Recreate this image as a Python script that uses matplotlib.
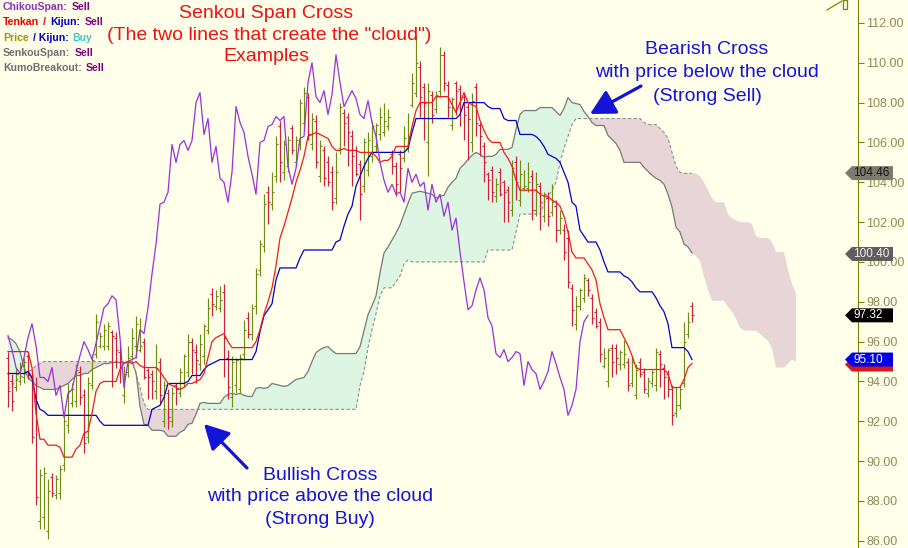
import matplotlib
matplotlib.use("Agg")
import matplotlib.pyplot as plt
from matplotlib.offsetbox import TextArea, HPacker, AnnotationBbox
from matplotlib.patches import Rectangle
import numpy as np

plt.rcParams["font.family"] = ["Liberation Sans", "DejaVu Sans"]

# ---- price bars of the visible window (one value per bar) ----
highs = [95.5, 94.4, 94.7, 95.0, 95.2, 95.5, 94.4, 94.2, 89.6, 89.7,
         89.1, 89.4, 89.3, 89.8, 92.4, 93.9, 93.9, 94.9, 94.8, 93.6,
         94.2, 95.4, 97.4, 96.5, 96.9, 97.0, 96.6, 96.5, 95.9, 94.8,
         95.8, 96.7, 97.3, 97.2, 96.2, 94.7, 94.6, 95.9, 95.2, 94.0,
         93.6, 93.7, 93.9, 94.7, 95.4, 96.4, 96.2, 95.9, 96.4, 96.9,
         98.2, 98.7, 98.6, 98.8, 98.9, 95.6, 95.3, 95.2, 95.4, 97.1,
         97.5, 97.9, 99.7, 101.1, 103.4, 103.8, 104.5, 106.3, 107.1, 106.1,
         106.3, 106.9, 106.3, 108.2, 108.8, 108.5, 107.5, 107.4, 106.1, 105.8,
         105.3, 104.8, 105.5, 108.0, 107.7, 107.5, 106.6, 105.8, 105.1, 106.2,
         106.5, 107.1, 107.0, 107.8, 108.0, 107.7, 105.6, 105.0, 105.6, 106.8,
         107.5, 109.5, 111.4, 110.1, 109.0, 109.0, 108.6, 108.6, 110.8, 110.6,
         109.1, 108.3, 109.1, 108.9, 108.5, 108.0, 108.5, 109.0, 107.0, 106.0,
         104.5, 104.8, 104.2, 104.7, 104.1, 103.8, 105.1, 105.3, 105.1, 104.6,
         105.0, 104.6, 104.5, 104.0, 103.5, 103.5, 103.9, 103.1, 102.6, 101.9,
         101.6, 98.9, 98.3, 98.7, 99.4, 99.2, 98.4, 97.7, 97.2, 95.7,
         95.7, 95.9, 95.9, 95.6, 96.1, 95.2, 95.3, 94.9, 95.2, 94.7,
         94.2, 94.6, 95.7, 95.6, 94.9, 94.6, 93.8, 93.7, 93.8, 97.0,
         97.5, 98.0]
lows = [92.7, 92.5, 93.5, 93.8, 93.9, 94.1, 90.9, 87.8, 86.6, 86.6,
        86.1, 88.2, 88.1, 88.1, 89.5, 91.4, 92.7, 92.7, 92.8, 90.4,
        90.9, 93.6, 95.2, 95.7, 95.6, 95.6, 93.7, 94.7, 93.9, 92.9,
        94.2, 95.1, 95.2, 95.5, 94.1, 93.1, 93.1, 93.1, 92.9, 91.7,
        91.6, 91.7, 92.8, 93.2, 93.7, 94.2, 94.4, 93.9, 94.6, 94.9,
        96.4, 97.3, 97.6, 97.5, 94.2, 93.1, 92.7, 93.4, 93.4, 95.1,
        96.2, 96.1, 97.4, 99.3, 100.5, 101.9, 102.6, 104.0, 104.0, 104.1,
        104.5, 105.4, 104.8, 105.6, 106.6, 106.1, 105.6, 104.7, 104.0, 103.8,
        103.8, 102.6, 102.9, 105.4, 105.8, 104.8, 103.8, 104.3, 102.1, 103.5,
        104.3, 105.0, 105.5, 106.1, 106.3, 106.6, 104.4, 103.3, 103.5, 105.0,
        105.5, 107.8, 108.3, 107.3, 106.1, 104.3, 107.0, 107.5, 108.3, 108.6,
        107.3, 106.6, 107.4, 106.8, 106.1, 105.1, 105.5, 106.3, 105.3, 104.0,
        103.1, 103.0, 103.0, 103.3, 102.0, 102.0, 102.3, 103.1, 102.8, 103.6,
        103.5, 102.1, 102.3, 101.6, 102.0, 101.8, 102.3, 101.0, 101.4, 100.1,
        98.7, 96.8, 96.6, 97.6, 98.0, 98.3, 96.9, 96.7, 95.0, 94.7,
        93.7, 94.2, 94.4, 94.6, 94.7, 93.5, 93.7, 93.1, 94.2, 93.4,
        93.2, 93.7, 93.5, 93.7, 93.1, 93.2, 91.8, 92.2, 92.6, 93.7,
        96.2, 97.0]
opens = [95.2, 94.0, 93.7, 94.0, 94.2, 95.3, 94.2, 93.0, 87.0, 87.2,
         86.5, 89.2, 88.3, 88.4, 89.8, 91.8, 92.9, 93.0, 94.5, 93.3,
         91.2, 93.8, 95.4, 95.8, 95.8, 95.8, 96.5, 96.2, 95.5, 93.3,
         94.5, 95.3, 95.8, 95.6, 96.0, 94.6, 94.4, 93.5, 95.0, 92.0,
         93.4, 92.0, 93.8, 93.4, 93.9, 94.5, 96.0, 95.5, 94.9, 95.3,
         96.6, 98.4, 97.8, 97.7, 98.5, 95.2, 93.2, 93.8, 93.6, 95.4,
         97.2, 96.4, 97.8, 99.6, 100.8, 103.5, 102.9, 104.3, 106.8, 104.5,
         104.8, 106.7, 105.0, 105.9, 107.0, 108.3, 105.9, 107.1, 104.3, 105.6,
         105.0, 104.5, 103.2, 105.7, 107.5, 107.3, 106.3, 105.6, 104.9, 103.8,
         104.6, 105.3, 105.8, 106.4, 106.5, 106.8, 105.4, 104.8, 105.4, 105.2,
         105.7, 107.9, 108.5, 109.8, 108.8, 106.0, 108.4, 107.7, 108.6, 110.4,
         108.9, 106.9, 109.0, 108.7, 108.3, 107.8, 106.0, 108.8, 106.9, 105.8,
         104.4, 104.6, 103.3, 104.5, 104.0, 103.6, 102.6, 105.0, 103.1, 103.7,
         103.7, 104.3, 102.6, 103.8, 102.3, 103.2, 102.5, 102.8, 101.6, 101.6,
         101.2, 98.7, 96.9, 97.8, 98.2, 99.1, 98.2, 97.5, 97.0, 94.8,
         94.0, 95.7, 95.7, 94.9, 94.9, 95.0, 93.9, 93.3, 95.0, 94.5,
         93.4, 93.9, 93.8, 95.4, 94.7, 94.4, 93.6, 92.4, 92.8, 93.9,
         96.4, 97.8]
closes = [93.5, 93.0, 94.4, 94.8, 95.0, 94.3, 91.2, 88.2, 89.3, 89.4,
          88.5, 88.4, 89.1, 89.6, 92.0, 93.5, 93.6, 94.6, 93.2, 90.9,
          93.9, 95.1, 97.0, 96.3, 96.6, 96.8, 96.3, 95.6, 94.7, 94.4,
          95.2, 96.2, 96.9, 95.8, 94.2, 94.2, 94.0, 94.7, 93.3, 93.8,
          92.2, 93.4, 93.6, 94.5, 95.3, 96.0, 95.6, 95.1, 95.9, 96.8,
          97.7, 97.9, 98.3, 98.1, 96.2, 93.7, 95.0, 95.1, 95.2, 96.6,
          96.4, 97.7, 99.4, 100.9, 102.9, 103.0, 103.5, 105.9, 105.0, 105.9,
          106.1, 105.6, 106.1, 108.0, 108.5, 106.4, 107.2, 105.0, 105.8, 104.2,
          104.0, 103.0, 104.5, 107.8, 107.0, 106.5, 105.3, 104.4, 103.4, 106.0,
          106.1, 106.8, 106.9, 107.3, 107.1, 107.3, 104.8, 103.9, 104.7, 106.2,
          106.3, 109.0, 110.0, 108.3, 108.0, 108.6, 107.4, 108.4, 110.4, 109.0,
          107.8, 108.2, 108.6, 108.2, 107.4, 107.2, 108.1, 107.0, 106.3, 105.0,
          104.1, 103.5, 103.9, 103.4, 103.5, 103.0, 104.7, 104.0, 104.4, 103.8,
          104.0, 102.6, 103.9, 103.0, 103.4, 102.3, 103.0, 101.6, 102.2, 100.5,
          99.0, 97.6, 97.8, 98.6, 99.2, 98.6, 97.2, 96.8, 95.4, 95.2,
          95.6, 95.0, 95.2, 95.5, 95.4, 93.8, 95.0, 94.6, 94.4, 93.6,
          94.0, 94.5, 95.5, 94.9, 94.2, 93.6, 92.3, 92.8, 93.6, 96.0,
          97.0, 97.32]

# ---- Ichimoku lines ----
tenkan = ([95.5] * 6 + [94.7, 92.4, 91.1, 91.1] + [90.8] * 3 + [90.7] + [90.2] * 3
          + [90.6, 90.8, 91.4, 91.5, 92.4, 93.5, 93.9] + [94.0] * 4
          + [94.6, 94.9, 95.0, 94.9, 95.0, 94.8] + [94.7] * 4
          + [94.5, 94.2, 93.9, 93.8, 93.7, 93.6, 93.7, 93.9, 93.9, 94.0, 94.1, 94.4,
             95.2, 96.0, 96.2, 96.3, 96.4, 96.0] + [95.7] * 6
          + [96.0, 96.6, 97.4, 98.0, 98.7, 99.8, 101.2, 101.8, 102.5, 103.2, 104.0,
             104.6, 105.3, 106.3, 106.4, 106.5, 106.4, 106.3, 106.2, 105.8, 105.6,
             105.6, 105.7] + [105.6] * 3 + [105.5] * 4
          + [105.3, 105.0, 105.1, 105.1, 105.3] + [105.8] * 4 + [106.8, 107.6]
          + [108.0] * 4 + [108.3] * 4
          + [107.9, 107.5, 108.0, 108.5, 108.0, 107.9, 107.8, 107.1, 106.6, 106.2]
          + [106.0] * 3 + [105.5, 105.2, 104.8, 104.1] + [103.6] * 5
          + [103.4, 103.3, 103.3, 103.1, 103.0, 102.8, 102.3, 101.5, 100.5]
          + [100.2] * 3 + [99.9, 99.6, 99.1, 97.9, 97.2] + [96.6] * 4
          + [96.2, 95.8, 95.3, 94.7] + [94.6] * 7 + [94.4] + [93.7] * 3
          + [94.1, 94.7, 94.9])
kijun = ([94.4] * 5 + [94.5, 94.2, 93.1, 92.6, 92.5] + [92.3] * 13 + [92.0]
         + [91.8] * 12 + [92.6, 92.7, 92.8, 93.2] + [93.9] * 5 + [94.0] + [94.3] * 3
         + [94.6, 94.8, 94.9, 95.0] + [95.1] * 9
         + [95.5, 96.5, 97.3, 97.6, 97.9, 99.1] + [99.7] * 5 + [100.2] + [100.6] * 8
         + [101.0, 101.1, 101.8, 102.4, 102.8, 103.8, 104.3, 104.8, 105.2]
         + [105.5] * 9 + [105.7, 106.5] + [107.2] * 11 + [107.4] + [108.0] * 6
         + [107.8] + [107.7] * 3 + [107.2] + [107.1] * 3 + [106.4] * 4
         + [106.3, 106.1, 105.8, 105.4, 105.3, 105.2, 105.0, 104.5, 104.0, 103.0,
            102.8, 101.6, 101.3] + [101.0] * 3 + [100.6, 100.0] + [99.5] * 4
         + [99.3, 99.2, 99.0, 98.7] + [98.5] * 4 + [98.2, 97.8, 97.5, 96.9]
         + [95.7] * 4 + [95.5, 95.1])
senkou_a = ([96.2, 96.1, 95.9, 95.5, 94.7, 94.2, 94.0, 93.8, 93.7, 93.6, 93.6, 93.6, 93.6,
             93.7, 93.8, 93.9, 94.1, 94.3, 94.3, 94.4, 94.4, 94.6, 94.7, 94.8, 94.9, 94.9]
            + [94.95] * 5 + [95.0, 94.45, 92.75, 91.85, 91.8] + [91.55] * 3 + [91.5]
            + [91.25] * 3 + [91.45, 91.55, 91.85, 91.9, 92.35, 92.9, 92.95] + [92.9] * 4
            + [93.2, 93.35, 93.4, 93.35, 93.4, 93.3] + [93.25] * 2
            + [93.65, 93.7, 93.65, 93.7, 93.9, 93.85, 93.8, 93.75, 93.8, 93.95, 94.1,
               94.15, 94.2, 94.5, 95.0, 95.45, 95.6, 95.7, 95.75, 95.55] + [95.4] * 6
            + [95.75, 96.55, 97.35, 97.8, 98.3, 99.45, 100.45, 100.75, 101.1, 101.45,
               101.85, 102.4, 102.95, 103.45, 103.5, 103.55, 103.5, 103.45, 103.4,
               103.2, 103.3, 103.35, 103.75, 104.0, 104.2, 104.7, 104.9, 105.15,
               105.35, 105.5, 105.4, 105.25] + [105.3] * 2 + [105.4] + [105.65] * 3
            + [105.75, 106.65, 107.4] + [107.6] * 4 + [107.75] * 4
            + [107.55, 107.35, 107.7, 108.25, 108.0, 107.95, 107.9, 107.55, 107.3, 107.0]
            + [106.85] * 3 + [106.35, 106.15, 105.95, 105.6] + [105.0] * 5
            + [104.75, 104.55, 104.35, 104.2, 104.1, 103.9, 103.4, 102.75, 101.75, 101.5,
               100.9, 100.75, 100.45, 100.3, 100.05, 99.25, 98.6] + [98.05] * 4
            + [97.75, 97.5, 97.15, 96.7] + [96.55] * 4 + [96.4, 96.2, 96.05, 95.65]
            + [94.7] * 3 + [94.9, 95.1, 95.0])
senkou_b = ([93.6, 93.8, 94.0, 94.2, 94.3, 94.5, 94.6, 94.8, 94.9, 95.0] + [95.0] * 22
            + [94.4, 93.7, 92.9] + [92.6] * 53
            + [93.8, 94.5, 95.7, 96.6, 97.4, 98.3] + [98.7] * 3 + [99.0, 99.3, 99.9, 100.1]
            + [100.0] * 19 + [100.6] * 7 + [101.5] + [102.4] * 6
            + [102.9, 103.3, 103.6, 104.0, 105.0, 105.7, 106.3, 106.9] + [107.2] * 17
            + [107.0] + [106.9] * 3 + [106.7, 106.5, 106.2, 105.5, 104.8, 104.5]
            + [104.45] * 4 + [104.3, 104.0, 103.6, 103.2] + [103.0] * 3
            + [102.4, 102.2, 102.1] + [102.0] * 3 + [101.9, 101.3] + [101.2] * 3
            + [101.0] + [100.5] * 3 + [99.6, 98.9, 98.4])

y_ticks = [86, 88, 90, 92, 94, 96, 98, 100, 102, 104, 106, 108, 110, 112]
tag_labels = ["104.46", "100.40", "97.32", "95.10"]
tag_values = [104.46, 100.40, 97.32, 95.10]
tenkan_tag_value = 94.95

# ---- colours ----
BG = "#ffffea"
CLOUD_UP = "#dcf6e2"
CLOUD_DN = "#e8d5d8"
BAR_UP = "#6d8c14"
BAR_DN = "#cc1f3c"
AXIS = "#808000"
RED_TXT = "#ee1111"
BLUE_TXT = "#1414d8"

W, H = 908, 548
PLOT_W = 858
X0, X1 = -2, 212.5
Y0, Y1 = 85.64, 113.15


def px(x, y):
    # pixel position in the picture -> data coordinates (for texts and arrows)
    return X0 + x / PLOT_W * (X1 - X0), Y1 - y / H * (Y1 - Y0)


def ypx(v):
    return (Y1 - v) / (Y1 - Y0) * H


def tag_shape(yc, color, z):
    pts = [(845, yc), (852, yc - 7), (893, yc - 7), (893, yc + 7), (852, yc + 7)]
    ax.fill([px(x, y)[0] for x, y in pts], [px(x, y)[1] for x, y in pts],
            color=color, lw=0, zorder=z, clip_on=False)


fig = plt.figure(figsize=(W / 100, H / 100), dpi=100)
fig.patch.set_facecolor(BG)
ax = fig.add_axes([0, 0, PLOT_W / W, 1])
ax.set_facecolor(BG)
ax.set_xlim(X0, X1)
ax.set_ylim(Y0, Y1)

n = len(closes)
idx = np.arange(n)
k = np.arange(len(senkou_a))
a = np.array(senkou_a)
b = np.array(senkou_b)

# cloud
ax.fill_between(k, a, b, where=a >= b, interpolate=True, color=CLOUD_UP, lw=0, zorder=1)
ax.fill_between(k, a, b, where=a < b, interpolate=True, color=CLOUD_DN, lw=0, zorder=1)
ax.plot(k[:n], a[:n], color="#787878", lw=0.9, zorder=2)
ax.plot(k[:n], b[:n], color="#8e8e8e", lw=0.8, ls=(0, (3, 2)), zorder=2)

# OHLC bars
cols = [BAR_UP if c >= o else BAR_DN for o, c in zip(opens, closes)]
ax.vlines(idx, lows, highs, colors=cols, lw=0.85, zorder=3)
ax.hlines(opens, idx - 0.45, idx, colors=cols, lw=0.8, zorder=3)
ax.hlines(closes, idx, idx + 0.45, colors=cols, lw=0.8, zorder=3)

# lines
ax.plot(idx, kijun, color="#0000c8", lw=0.9, zorder=4)
ax.plot(idx, tenkan, color="#f01c1c", lw=0.9, zorder=4)
ax.plot(idx[26:] - 26, closes[26:], color="#9b30d9", lw=0.9, zorder=5)

# right axis
for s in ("top", "left", "bottom"):
    ax.spines[s].set_visible(False)
ax.spines["right"].set_color(AXIS)
ax.set_xticks([])
ax.yaxis.tick_right()
ax.set_yticks(y_ticks)
ax.set_yticklabels([f"{v:.2f}" for v in y_ticks])
ax.tick_params(axis="y", direction="out", length=4, width=0.8, color=AXIS,
               labelcolor="#8c8c5a", labelsize=9, pad=2)

# red tenkan tag peeking out under the blue kijun tag (shape only)
tag_shape(ypx(tenkan_tag_value) + 2, "#d81818", 9)

# value tags on the axis
tag_colors = [("#7c7c6e", "#141414"), ("#5e5e5e", "#f2f2f2"),
              ("#000000", "#ffffff"), ("#0000e6", "#ffffff")]
for label, val, (fc, tc) in zip(tag_labels, tag_values, tag_colors):
    tag_shape(ypx(val), fc, 10)
    ax.text(*px(853, ypx(val)), label, ha="left", va="center", fontsize=8.5,
            color=tc, zorder=11, clip_on=False)

# titles
ax.text(*px(266, 14), "Senkou Span Cross", ha="center", va="center", fontsize=14, color=RED_TXT)
ax.text(*px(269, 36), '(The two lines that create the "cloud")', ha="center", va="center",
        fontsize=14, color=RED_TXT)
ax.text(*px(266, 57), "Examples", ha="center", va="center", fontsize=14, color=RED_TXT)

ax.text(*px(707, 50), "Bearish Cross", ha="center", va="center", fontsize=14, color=BLUE_TXT)
ax.text(*px(707, 73), "with price below the cloud", ha="center", va="center", fontsize=14, color=BLUE_TXT)
ax.text(*px(707, 96), "(Strong Sell)", ha="center", va="center", fontsize=14, color=BLUE_TXT)

ax.text(*px(320, 475), "Bullish Cross", ha="center", va="center", fontsize=14, color=BLUE_TXT)
ax.text(*px(320, 497), "with price above the cloud", ha="center", va="center", fontsize=14, color=BLUE_TXT)
ax.text(*px(320, 520), "(Strong Buy)", ha="center", va="center", fontsize=14, color=BLUE_TXT)

arrow = dict(arrowstyle="-|>,head_length=0.75,head_width=0.4", color=BLUE_TXT, lw=2.3,
             mutation_scale=20, shrinkA=0, shrinkB=0)
ax.annotate("", xy=px(590, 114), xytext=px(641, 86), arrowprops=arrow, zorder=8)
ax.annotate("", xy=px(204, 424), xytext=px(247, 468), arrowprops=arrow, zorder=8)

# signal legend, top left
PURPLE = "#9030c0"
SELL = "#800080"
GRAY = "#707070"
legend_rows = [
    [("ChikouSpan:", PURPLE), ("Sell", SELL)],
    [("Tenkan", "#ee0000"), ("/", "#ee0000"), ("Kijun:", "#0000cc"), ("Sell", SELL)],
    [("Price", "#9a9a00"), ("/ Kijun:", "#0000cc"), ("Buy", "#40c8c8")],
    [("SenkouSpan:", GRAY), ("Sell", SELL)],
    [("KumoBreakout:", GRAY), ("Sell", SELL)],
]
legend_y = [7, 22, 38, 53, 68]
for row, yrow in zip(legend_rows, legend_y):
    boxes = [TextArea(t, textprops=dict(color=c, fontsize=7.6, fontweight="bold")) for t, c in row]
    pack = HPacker(children=boxes, align="baseline", pad=0, sep=3)
    ab = AnnotationBbox(pack, (3, H - yrow), xycoords="figure pixels", box_alignment=(0, 0.5),
                        frameon=False, pad=0)
    ax.add_artist(ab)

# small marker in the top right corner
p1, p2 = px(827, 10), px(842, 1)
ax.plot([p1[0], p2[0]], [p1[1], p2[1]], color=AXIS, lw=0.9, clip_on=False)
r0 = px(843, 9)
r1 = px(847, 0)
ax.add_patch(Rectangle(r0, r1[0] - r0[0], r1[1] - r0[1], fill=False, ec=AXIS, lw=0.9, clip_on=False))

fig.savefig("out.png", dpi=100, facecolor=BG)
